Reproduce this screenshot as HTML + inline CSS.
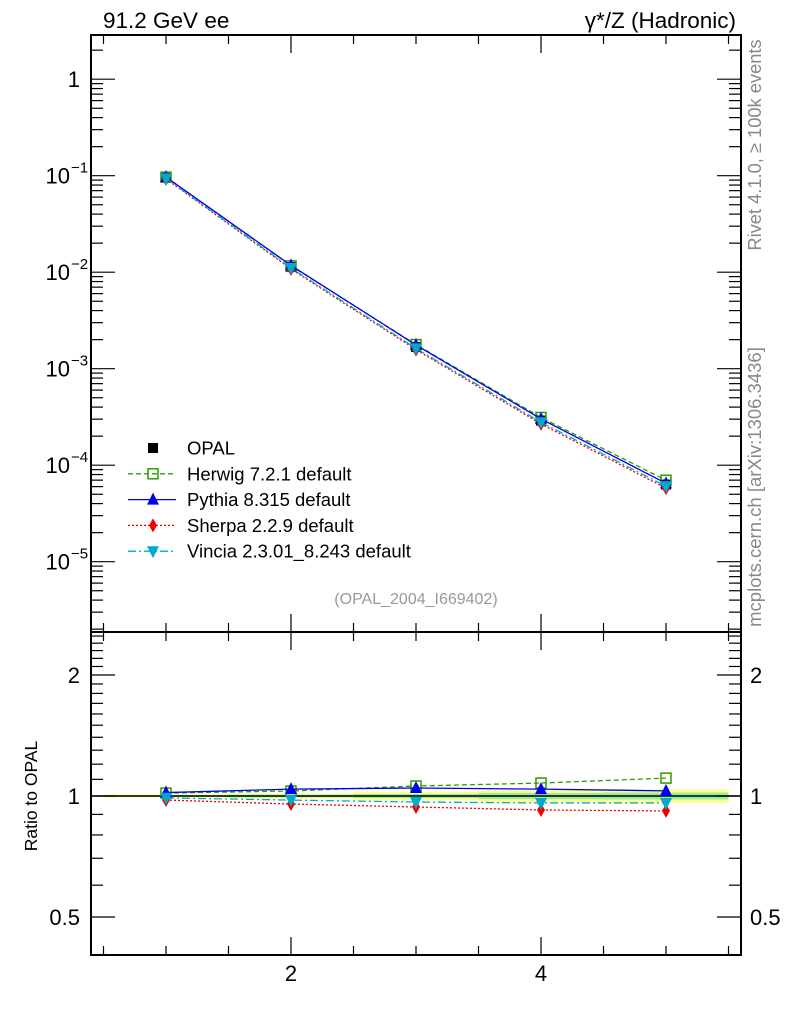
<!DOCTYPE html>
<html><head><meta charset="utf-8"><style>
body{margin:0;background:#fff}
svg{display:block;font-family:"Liberation Sans",sans-serif}
</style></head><body>
<svg id="c" width="786" height="1024"></svg>
<script>
const xs=[1,2,3,4,5];
const opal=[0.095,0.0113,0.00168,0.00029,0.000063];
const herwigR=[1.017,1.029,1.059,1.077,1.108];
const pythiaR=[1.02,1.04,1.047,1.04,1.03];
const sherpaR=[0.977,0.955,0.939,0.923,0.918];
const vinciaR=[0.989,0.977,0.966,0.961,0.961];
const bandOuter=[0.01,0.015,0.025,0.035,0.04];
const bandInner=[0.005,0.008,0.012,0.018,0.02];
const xTicks=[2,4];
const yMajor=[0,-1,-2,-3,-4,-5];
const yLabels=["1","10","10","10","10","10"];
const ySup=["","−1","−2","−3","−4","−5"];
const rTicks=[0.5,1,2];

const S=document.getElementById('c'),NS='http://www.w3.org/2000/svg';
function el(t,a,p){const e=document.createElementNS(NS,t);for(const k in a)e.setAttribute(k,a[k]);(p||S).appendChild(e);return e;}
const L=91,R=741,T=35,M=632,B=955;
const X=v=>L+(v-0.4)*125;
const Y=v=>79.2-Math.log10(v)*96.5;
const RY=v=>796-Math.log2(v)*121;

for(let i=0;i<xs.length;i++){
 let e=el('rect',{x:X(xs[i]-0.5),y:RY(1+bandOuter[i]),width:125,height:RY(1-bandOuter[i])-RY(1+bandOuter[i]),fill:'#ffff99'});
 
 e=el('rect',{x:X(xs[i]-0.5),y:RY(1+bandInner[i]),width:125,height:RY(1-bandInner[i])-RY(1+bandInner[i]),fill:'#99ee99'});
 
}
el('line',{x1:L,x2:R,y1:RY(1),y2:RY(1),stroke:'#000','stroke-width':1.5});

let f=el('rect',{x:L,y:T,width:R-L,height:M-T,fill:'none',stroke:'#000','stroke-width':2});

f=el('rect',{x:L,y:M,width:R-L,height:B-M,fill:'none',stroke:'#000','stroke-width':2});


for(let d=1;d>=-6;d--){for(let m=1;m<10;m++){const v=m*Math.pow(10,d);const y=Y(v);if(y<T||y>M)continue;const len=m==1?24:12;
 el('line',{x1:L,x2:L+len,y1:y,y2:y,stroke:'#000','stroke-width':1.2});el('line',{x1:R,x2:R-len,y1:y,y2:y,stroke:'#000','stroke-width':1.2});}}
yMajor.forEach((d,i)=>{const y=Y(Math.pow(10,d));
 const t=el('text',{x:ySup[i]?70:80,y:y+8,'font-size':22,'text-anchor':'end'});t.textContent=yLabels[i];
 
 if(ySup[i]){const s=el('text',{x:71,y:y-3,'font-size':15});s.textContent=ySup[i];}});
for(let v=0.4;v<=2.6;v+=0.1){const y=RY(v);if(y<M||y>B)continue;const maj=[0.5,1,2].some(q=>Math.abs(q-v)<1e-6);const len=maj?24:12;
 el('line',{x1:L,x2:L+len,y1:y,y2:y,stroke:'#000','stroke-width':1.2});el('line',{x1:R,x2:R-len,y1:y,y2:y,stroke:'#000','stroke-width':1.2});}
rTicks.forEach(v=>{const y=RY(v);let t=el('text',{x:80,y:y+8,'font-size':22,'text-anchor':'end'});t.textContent=String(v);
 
 t=el('text',{x:750,y:y+8,'font-size':22});t.textContent=String(v);});
for(let v=0.5;v<5.6;v+=0.5){const x=X(v);const maj=Math.abs(v-Math.round(v))<1e-6&&v%2==0;const len=maj?18:9;
 [[M,-1],[B,-1],[T,1],[M,1]].forEach(([y0,s])=>el('line',{x1:x,x2:x,y1:y0,y2:y0+s*len,stroke:'#000','stroke-width':1.2}));}
xTicks.forEach(v=>{const t=el('text',{x:X(v),y:981,'font-size':22,'text-anchor':'middle'});t.textContent=String(v);
 });

function marker(type,x,y,col,g){
 if(type=='sq')return el('rect',{x:x-5,y:y-5,width:10,height:10,fill:'#000'},g);
 if(type=='osq')return el('rect',{x:x-5,y:y-5,width:10,height:10,fill:'none',stroke:col,'stroke-width':1.5},g);
 if(type=='tri')return el('polygon',{points:`${x},${y-7} ${x-6},${y+5} ${x+6},${y+5}`,fill:col},g);
 if(type=='dia')return el('polygon',{points:`${x},${y-7} ${x-4},${y} ${x},${y+7} ${x+4},${y}`,fill:col},g);
 if(type=='itri')return el('polygon',{points:`${x},${y+7} ${x-6},${y-5} ${x+6},${y-5}`,fill:col},g);
}
xs.forEach((x,i)=>{const m=marker('sq',X(x),Y(opal[i]),'#000');});
const series=[
 {name:'herwig',r:herwigR,col:'#339900',dash:'5,3',m:'osq',label:'Herwig 7.2.1 default'},
 {name:'pythia',r:pythiaR,col:'#0000ee',dash:'',m:'tri',label:'Pythia 8.315 default'},
 {name:'sherpa',r:sherpaR,col:'#ee0000',dash:'2,2',m:'dia',label:'Sherpa 2.2.9 default'},
 {name:'vincia',r:vinciaR,col:'#00aacc',dash:'8,3,2,3',m:'itri',label:'Vincia 2.3.01_8.243 default'}];
series.forEach(s=>{
 const g=el('g',{});
 const pm=xs.map((x,i)=>X(x)+','+Y(opal[i]*s.r[i])).join(' ');
 const pr=xs.map((x,i)=>X(x)+','+RY(s.r[i])).join(' ');
 el('polyline',{points:pm,fill:'none',stroke:s.col,'stroke-width':1.3,'stroke-dasharray':s.dash},g);
 el('polyline',{points:pr,fill:'none',stroke:s.col,'stroke-width':1.3,'stroke-dasharray':s.dash},g);
 xs.forEach((x,i)=>{let m=marker(s.m,X(x),Y(opal[i]*s.r[i]),s.col,g);
  m=marker(s.m,X(x),RY(s.r[i]),s.col,g);});
});

const lg=el('g',{});
const rows=[{m:'sq',col:'#000',label:'OPAL'}].concat(series);
rows.forEach((s,i)=>{const y=448+i*25.8;
 if(i>0)el('line',{x1:128,x2:176,y1:y,y2:y,stroke:s.col,'stroke-width':1.3,'stroke-dasharray':s.dash},lg);
 marker(s.m,153,y,s.col,lg);
 const t=el('text',{x:187,y:y+6.5,'font-size':18.5},lg);t.textContent=s.label;
 });

function txt(x,y,s,str,attrs,name){const t=el('text',Object.assign({x,y,'font-size':s},attrs||{}));t.innerHTML=str;
 return t;}
txt(103,28,22.5,'91.2 GeV ee',{},'title-left');
txt(736,28,22.5,'γ*/Z (Hadronic)',{'text-anchor':'end'},'title-right');
txt(416,604,16,'(OPAL_2004_I669402)',{'text-anchor':'middle',fill:'#999'},'analysis-id');
txt(37,796,17.5,'Ratio to OPAL',{'text-anchor':'middle',transform:'rotate(-90 37 796)'},'ratio-y-title');
txt(761,145,18.3,'Rivet 4.1.0, ≥ 100k events',{'text-anchor':'middle',fill:'#888',transform:'rotate(-90 761 145)'},'rivet-label');
txt(761,487,18.5,'mcplots.cern.ch [arXiv:1306.3436]',{'text-anchor':'middle',fill:'#888',transform:'rotate(-90 761 487)'},'mcplots-label');
</script>
</body></html>
